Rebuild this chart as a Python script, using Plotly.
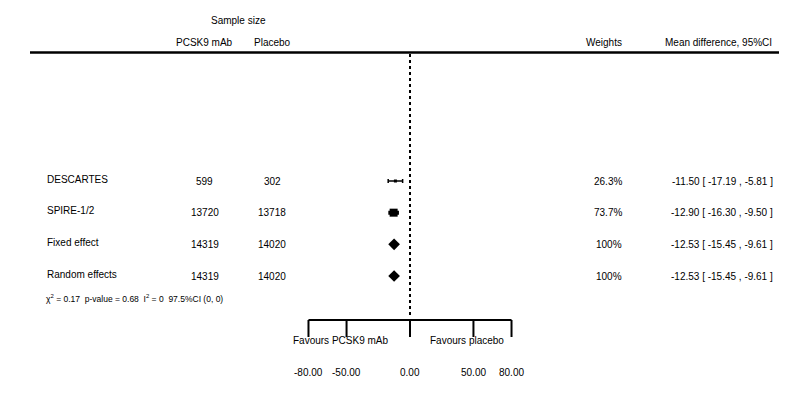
import plotly.graph_objects as go

# ---- data ----
studies = ["DESCARTES", "SPIRE-1/2", "Fixed effect", "Random effects"]
n_pcsk9 = [599, 13720, 14319, 14319]
n_placebo = [302, 13718, 14020, 14020]
weights = ["26.3%", "73.7%", "100%", "100%"]
md = [-11.50, -12.90, -12.53, -12.53]
ci_low = [-17.19, -16.30, -15.45, -15.45]
ci_high = [-5.81, -9.50, -9.61, -9.61]
axis_ticks = [-80, -50, 0, 50, 80]
stats_text = "χ<sup>2</sup> = 0.17  p-value = 0.68  I<sup>2</sup> = 0  97.5%CI (0, 0)"

OFF = 8  # page body margin
W, H = 787 - OFF, 404 - OFF
FONT = "Liberation Sans, Arial, sans-serif"

# pixel helpers for layout (positions only; given in window pixels)
X0PX, SCALE = 410 - OFF, 1.269
xmin = -X0PX / SCALE
xmax = (W - X0PX) / SCALE
ROW0PX, ROWPX = 181 - OFF, 31.67
ymin_row = (0 - ROW0PX) / ROWPX
ymax_row = (H - ROW0PX) / ROWPX


def rowy(py):
    return (py - OFF - ROW0PX) / ROWPX


def px(x):
    return (x - OFF) / W


rows = list(range(len(studies)))

fig = go.Figure()

# dotted zero line
fig.add_trace(go.Scatter(x=[0, 0], y=[rowy(54), rowy(318)], mode="lines",
                         line=dict(color="black", width=2, dash="3px,3px"),
                         hoverinfo="skip", showlegend=False))

# study CIs
fig.add_trace(go.Scatter(
    x=md[:1], y=rows[:1], mode="markers",
    marker=dict(symbol="square", size=3, color="black"),
    error_x=dict(type="data", symmetric=False,
                 array=[ci_high[0] - md[0]], arrayminus=[md[0] - ci_low[0]],
                 color="black", thickness=1.5, width=2),
    showlegend=False))
fig.add_trace(go.Scatter(
    x=md[1:2], y=rows[1:2], mode="markers",
    marker=dict(symbol="square", size=8, color="black"),
    error_x=dict(type="data", symmetric=False,
                 array=[ci_high[1] - md[1]], arrayminus=[md[1] - ci_low[1]],
                 color="black", thickness=2, width=2),
    showlegend=False))
# pooled diamonds
fig.add_trace(go.Scatter(
    x=md[2:], y=rows[2:], mode="markers",
    marker=dict(symbol="diamond", size=9, color="black"),
    showlegend=False))

# bottom axis line and ticks
fig.add_trace(go.Scatter(x=[axis_ticks[0], axis_ticks[-1]], y=[rowy(320), rowy(320)],
                         mode="lines", line=dict(color="black", width=2),
                         hoverinfo="skip", showlegend=False))
for t in axis_ticks:
    fig.add_trace(go.Scatter(x=[t, t], y=[rowy(320), rowy(337)], mode="lines",
                             line=dict(color="black", width=2),
                             hoverinfo="skip", showlegend=False))
    fig.add_annotation(x=t, y=rowy(372), xref="x", yref="y", text=f"{t:.2f}",
                       showarrow=False, font=dict(size=10, family=FONT, color="black"))

fig.add_annotation(x=-55, y=rowy(340), xref="x", yref="y", text="Favours PCSK9 mAb",
                   showarrow=False, font=dict(size=10, family=FONT, color="black"))
fig.add_annotation(x=45, y=rowy(340), xref="x", yref="y", text="Favours placebo",
                   showarrow=False, font=dict(size=10, family=FONT, color="black"))

# header line
fig.add_shape(type="line", xref="paper", yref="y", x0=px(30), x1=1,
              y0=rowy(52.5), y1=rowy(52.5), line=dict(color="black", width=2.5))


def ann(x, y, text, anchor="center", size=10):
    fig.add_annotation(x=px(x), y=y, xref="paper", yref="y", text=text,
                       xanchor=anchor, showarrow=False,
                       font=dict(size=size, family=FONT, color="black"))


ann(238, rowy(20), "Sample size")
ann(205, rowy(42), "PCSK9 mAb")
ann(272, rowy(42), "Placebo")
ann(604, rowy(42), "Weights")
ann(718, rowy(42), "Mean difference, 95%CI")

for i, s in enumerate(studies):
    ann(45, i - 0.06, s, anchor="left")
    ann(205, i, str(n_pcsk9[i]))
    ann(272, i, str(n_placebo[i]))
    ann(624, i, weights[i], anchor="right")
    ann(722, i, f"{md[i]:.2f} [ {ci_low[i]:.2f} , {ci_high[i]:.2f} ]")

ann(44, rowy(298), stats_text, anchor="left", size=8.5)

fig.update_layout(
    width=W, height=H, margin=dict(l=0, r=0, t=0, b=0),
    paper_bgcolor="white", plot_bgcolor="white",
    xaxis=dict(range=[xmin, xmax], visible=False, fixedrange=True),
    yaxis=dict(range=[ymax_row, ymin_row], visible=False, fixedrange=True),
    showlegend=False,
)

fig.write_html("out.html")
